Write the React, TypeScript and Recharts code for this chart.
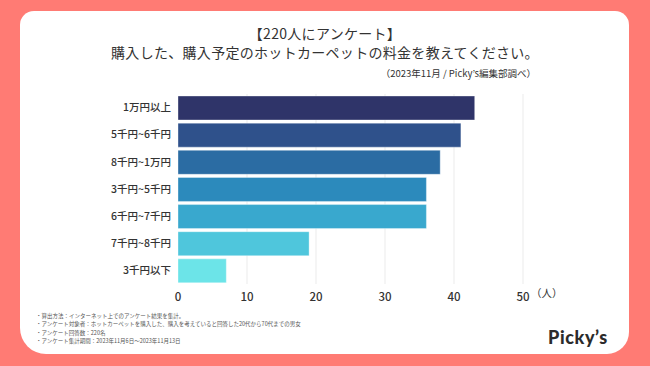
import React from "react";
import { BarChart, Bar, XAxis, YAxis, CartesianGrid, Cell } from "recharts";

const categories = ["1万円以上", "5千円~6千円", "8千円~1万円", "3千円~5千円", "6千円~7千円", "7千円~8千円", "3千円以下"];
const counts = [43, 41, 38, 36, 36, 19, 7];
const barColors = ["#2f3469", "#2f518b", "#2b6ca3", "#2c8abc", "#39a8ce", "#4fc6dc", "#6ce4e8"];
const xTicks = [0, 10, 20, 30, 40, 50];
const notes = [
  "・算出方法：インターネット上でのアンケート結果を集計。",
  "・アンケート対象者：ホットカーペットを購入した、購入を考えていると回答した20代から70代までの男女",
  "・アンケート回答数：220名",
  "・アンケート集計期間：2023年11月6日〜2023年11月13日",
];

const data = categories.map((name, i) => ({ name, value: counts[i] }));

const font = "'Noto Sans CJK JP', 'Noto Sans', sans-serif";

export default function App() {
  return (
    <div style={{ position: "absolute", left: 0, top: 0, width: 650, height: 366, background: "#ff7b74", overflow: "hidden", fontFamily: font, color: "#333" }}>
      <div style={{ position: "absolute", left: 20, top: 11, width: 609, height: 343, background: "#fff", borderRadius: "14px 14px 22px 26px" }} />
      <div style={{ position: "absolute", left: 0, top: 24, width: 650, textAlign: "center", fontSize: 14, lineHeight: "19px", fontWeight: 400, letterSpacing: 0.3 }}>
        【220人にアンケート】<br />購入した、購入予定のホットカーペットの料金を教えてください。
      </div>
      <div style={{ position: "absolute", right: 114, top: 66, fontSize: 9.5, color: "#333" }}>
        （2023年11月 / Picky’s編集部調べ）
      </div>
      <div style={{ position: "absolute", left: 0, top: 0 }}>
        <BarChart width={650} height={366} data={data} layout="vertical" margin={{ top: 94, right: 127, bottom: 62, left: 78 }}>
          <CartesianGrid horizontal={false} stroke="#ebebeb" verticalValues={[10, 20, 30, 40, 50]} />
          <XAxis type="number" domain={[0, 50]} ticks={xTicks} axisLine={false} tickLine={false} tickSize={0} tickMargin={9} height={20} tick={{ fill: "#333", fontSize: 11.5, fontWeight: 500 }} />
          <YAxis type="category" dataKey="name" width={100} axisLine={false} tickLine={false} tickSize={0} tickMargin={7} tick={{ fill: "#333", fontSize: 10.5, fontWeight: 500 }} />
          <Bar dataKey="value" barSize={24} isAnimationActive={false}>
            {data.map((d, i) => (
              <Cell key={d.name} fill={barColors[i]} stroke="#ffffff" strokeOpacity={0.35} />
            ))}
          </Bar>
        </BarChart>
      </div>
      <div style={{ position: "absolute", left: 531, top: 285, fontSize: 10.5, color: "#333" }}>（人）</div>
      <div style={{ position: "absolute", left: 36, top: 312, fontSize: 5.5, lineHeight: "8.3px", color: "#555" }}>
        {notes.map((n) => (
          <div key={n}>{n}</div>
        ))}
      </div>
      <div style={{ position: "absolute", left: 548, top: 326, fontSize: 18, fontWeight: 900, fontFamily: "Lato, sans-serif", color: "#2b2b2b", letterSpacing: 0.6 }}>
        Picky’s
      </div>
    </div>
  );
}
